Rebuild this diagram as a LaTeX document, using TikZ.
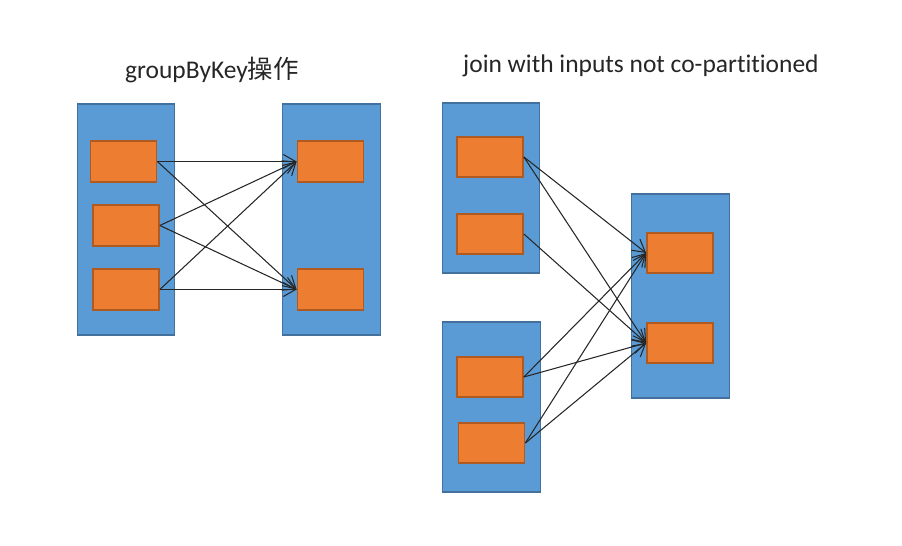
\documentclass[tikz,border=0pt]{standalone}
\usepackage{fontspec}
\setmainfont{Carlito}[Ligatures=NoCommon]
\newfontfamily\cjk{Noto Sans CJK SC}
\usepackage{tikz}
\usetikzlibrary{arrows.meta, positioning}

\definecolor{partblue}{HTML}{5B9BD5}
\definecolor{partedge}{HTML}{41719C}
\definecolor{recfill}{HTML}{ED7D31}
\definecolor{recedge}{HTML}{AE5A21}

\begin{document}
\begin{tikzpicture}[
			x=0.02cm, y=-0.02cm,
			partition/.style={draw=partedge, fill=partblue, line width=0.8pt, inner sep=0pt, minimum width=1.95cm},
			record/.style={draw=recedge, fill=recfill, line width=1pt, inner sep=0pt, minimum width=1.32cm, minimum height=0.81cm},
			flow/.style={-{Straight Barb[length=7pt,width=8pt]}, black!85, line width=0.6pt},
			title/.style={font=\fontsize{14.5}{17}\selectfont, text=black!85}
			]
			\useasboundingbox (0,0) rectangle (902,546);
			
			% groupByKey
			\node[title] (t1) at (212,70) {groupByKey{\cjk 操作}};
			\node[partition, minimum height=4.62cm] (P1) at (126,219.5) {};
			\node[partition, minimum height=4.62cm] (P2) at (331.5,219.5) {};
			\node[record] (p11) at (123.5,161.5) {};
			\node[record] (p12) at (126,225.5) {};
			\node[record] (p13) at (126,289.5) {};
			\node[record] (p21) at (330.5,161.5) {};
			\node[record] (p22) at (330.5,289.5) {};
			
			\foreach \s in {p11,p12,p13} {
				\draw[flow] (\s.east) -- (p21.west);
				\draw[flow] (\s.east) -- (p22.west);
			}
			
			% join, inputs not co-partitioned
			\node[title] (t2) at (641,66) {join with inputs not co-partitioned};
			\node[partition, minimum height=3.4cm] (A) at (491,188) {};
			\node[partition, minimum height=3.4cm] (B) at (491.5,407) {};
			\node[partition, minimum height=4.08cm] (C) at (680.5,296) {};
			\node[record] (a1) at (490,157) {};
			\node[record] (a2) at (490,234) {};
			\node[record] (b1) at (490,377) {};
			\node[record] (b2) at (491.5,443) {};
			\node[record] (c1) at (680,253) {};
			\node[record] (c2) at (680,343) {};
			
			\draw[flow] (a1.east) -- (c1.west);
			\draw[flow] (a1.east) -- (c2.west);
			\draw[flow] (a2.east) -- (c2.west);
			\foreach \s in {b1,b2} {
				\draw[flow] (\s.east) -- (c1.west);
				\draw[flow] (\s.east) -- (c2.west);
			}
		\end{tikzpicture}
\end{document}
